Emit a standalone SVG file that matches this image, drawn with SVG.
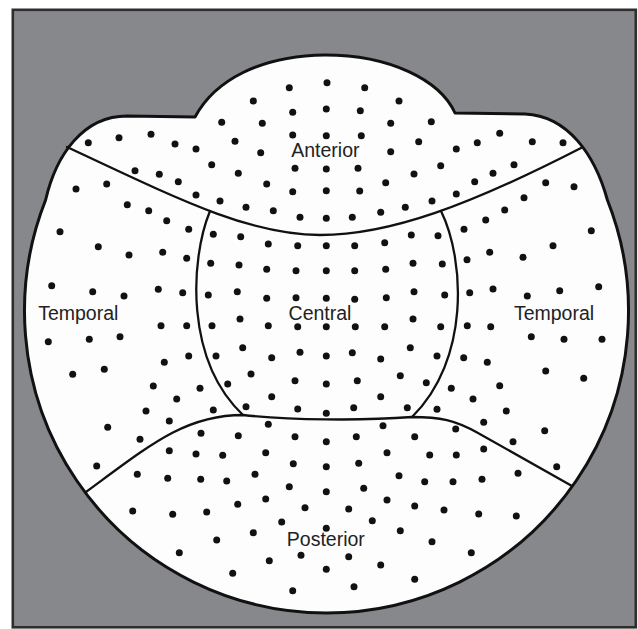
<svg xmlns="http://www.w3.org/2000/svg" width="638" height="629" viewBox="0 0 638 629">
<style>
.frame{fill:#87888b;stroke:#2e2e2e;stroke-width:2.6}
.head{fill:#fdfdfd;stroke:#111;stroke-width:3;stroke-linejoin:round}
.bd{fill:none;stroke:#111;stroke-width:2.3;stroke-linecap:round}
.dots circle{fill:#111}
.lbl{font-family:"Liberation Sans",Arial,Helvetica,sans-serif;font-size:19.5px;fill:#222;text-anchor:middle}
</style>
<rect class="frame" x="12.8" y="9.8" width="623" height="617.5"/>
<g id="head">
<path class="head" d="M127,116 L195,117 C215,80 260,56 325,55 C390,55 440,80 455,113 L525,114 C568,116 595,155 607.4,200 A302 302 0 1 1 45.6,200 C56,155 83,116 127,116 Z"/>
</g>
<g id="boundaries">
<path class="bd" d="M67,147 C180,200 250,235 320,235 C390,235 470,205 581,148"/>
<path class="bd" d="M210,211 C190,260 185,360 243,415"/>
<path class="bd" d="M441,211 C465,260 470,360 412,417"/>
<path class="bd" d="M86,492 C150,445 185,415 243,415 C290,420 360,421 412,417 C440,417 455,420 478,433 L572,486"/>
</g>
<g id="anterior" class="dots">
<circle cx="289.3" cy="87.7" r="3.5"/><circle cx="253.3" cy="101" r="3.5"/><circle cx="292.7" cy="112.3" r="3.5"/><circle cx="221.7" cy="122.3" r="3.5"/><circle cx="262.3" cy="123.3" r="3.5"/><circle cx="292.7" cy="135" r="3.5"/><circle cx="88.3" cy="142.7" r="3.5"/><circle cx="119" cy="137.7" r="3.5"/><circle cx="151" cy="134.3" r="3.5"/><circle cx="175" cy="144" r="3.5"/><circle cx="196" cy="149" r="3.5"/><circle cx="235" cy="141.3" r="3.5"/><circle cx="260.7" cy="152.7" r="3.5"/><circle cx="211.7" cy="164.7" r="3.5"/><circle cx="295" cy="168.3" r="3.5"/><circle cx="135" cy="170.7" r="3.5"/><circle cx="159.3" cy="174.3" r="3.5"/><circle cx="238.3" cy="173.3" r="3.5"/><circle cx="178.3" cy="181.7" r="3.5"/><circle cx="266.7" cy="184" r="3.5"/><circle cx="292.7" cy="191.7" r="3.5"/><circle cx="196" cy="195" r="3.5"/><circle cx="220" cy="201" r="3.5"/><circle cx="246" cy="207.3" r="3.5"/><circle cx="273.3" cy="210.7" r="3.5"/><circle cx="300" cy="217.3" r="3.5"/>
<circle cx="327" cy="82.7" r="3.5"/><circle cx="364.7" cy="87.7" r="3.5"/><circle cx="326.3" cy="109" r="3.5"/><circle cx="360.3" cy="110.7" r="3.5"/><circle cx="399" cy="101" r="3.5"/><circle cx="390.7" cy="123.3" r="3.5"/><circle cx="431.3" cy="121.7" r="3.5"/><circle cx="326.3" cy="135.7" r="3.5"/><circle cx="361.3" cy="135.7" r="3.5"/><circle cx="418.7" cy="141.7" r="3.5"/><circle cx="456.3" cy="149" r="3.5"/><circle cx="477.3" cy="142.7" r="3.5"/><circle cx="499.7" cy="133.3" r="3.5"/><circle cx="532.3" cy="141.7" r="3.5"/><circle cx="563" cy="142.7" r="3.5"/><circle cx="390.7" cy="151.7" r="3.5"/><circle cx="326.3" cy="169" r="3.5"/><circle cx="358" cy="168.3" r="3.5"/><circle cx="440.7" cy="165.7" r="3.5"/><circle cx="414" cy="174" r="3.5"/><circle cx="493" cy="173.3" r="3.5"/><circle cx="514" cy="164.7" r="3.5"/><circle cx="385.7" cy="182.7" r="3.5"/><circle cx="474.7" cy="181.7" r="3.5"/><circle cx="326.3" cy="190.7" r="3.5"/><circle cx="359.7" cy="191" r="3.5"/><circle cx="432" cy="201" r="3.5"/><circle cx="456.3" cy="194" r="3.5"/><circle cx="405.3" cy="207.3" r="3.5"/><circle cx="380.7" cy="212.3" r="3.5"/><circle cx="326.3" cy="218.3" r="3.5"/><circle cx="352.3" cy="217.3" r="3.5"/>
</g>
<g id="temporal-left" class="dots">
<circle cx="76" cy="189" r="3.5"/><circle cx="106.7" cy="184" r="3.5"/><circle cx="127.3" cy="204.7" r="3.5"/><circle cx="148.7" cy="210.7" r="3.5"/><circle cx="166.7" cy="220.7" r="3.5"/><circle cx="188.7" cy="229.3" r="3.5"/><circle cx="60" cy="231.7" r="3.5"/><circle cx="98.3" cy="246.7" r="3.5"/><circle cx="129" cy="255" r="3.5"/><circle cx="162.7" cy="252.3" r="3.5"/><circle cx="186.7" cy="258.3" r="3.5"/><circle cx="51.7" cy="285.7" r="3.5"/><circle cx="92.7" cy="291.7" r="3.5"/><circle cx="124" cy="296" r="3.5"/><circle cx="158.3" cy="289.3" r="3.5"/><circle cx="182.7" cy="292.7" r="3.5"/>
<circle cx="161" cy="325.7" r="3.5"/><circle cx="186.7" cy="325.7" r="3.5"/><circle cx="48.3" cy="341.7" r="3.5"/><circle cx="89.3" cy="339.3" r="3.5"/><circle cx="120" cy="336.7" r="3.5"/><circle cx="164.3" cy="362.3" r="3.5"/><circle cx="188.7" cy="356" r="3.5"/><circle cx="72.7" cy="374.3" r="3.5"/><circle cx="104.3" cy="369.3" r="3.5"/><circle cx="153.3" cy="386" r="3.5"/><circle cx="200" cy="388.3" r="3.5"/><circle cx="176.7" cy="399" r="3.5"/><circle cx="146" cy="411" r="3.5"/><circle cx="169.3" cy="421" r="3.5"/><circle cx="213.3" cy="410" r="3.5"/><circle cx="107.7" cy="427.3" r="3.5"/><circle cx="140" cy="439.3" r="3.5"/><circle cx="96.7" cy="466" r="3.5"/>
</g>
<g id="central" class="dots">
<circle cx="213.3" cy="234.3" r="3.5"/><circle cx="240.7" cy="236.7" r="3.5"/><circle cx="268.3" cy="244" r="3.5"/><circle cx="297.7" cy="245.7" r="3.5"/><circle cx="210.7" cy="263.3" r="3.5"/><circle cx="239" cy="265" r="3.5"/><circle cx="266.7" cy="269.3" r="3.5"/><circle cx="296" cy="270.7" r="3.5"/><circle cx="208.3" cy="295" r="3.5"/><circle cx="237.3" cy="291.7" r="3.5"/><circle cx="266.7" cy="298.3" r="3.5"/><circle cx="296" cy="297.7" r="3.5"/><circle cx="240" cy="319" r="3.5"/>
<circle cx="326.3" cy="245.7" r="3.5"/><circle cx="354.7" cy="245.7" r="3.5"/><circle cx="384.7" cy="242.7" r="3.5"/><circle cx="411.3" cy="235" r="3.5"/><circle cx="438" cy="235.7" r="3.5"/><circle cx="326.3" cy="270.7" r="3.5"/><circle cx="354.7" cy="270.7" r="3.5"/><circle cx="385.7" cy="269.3" r="3.5"/><circle cx="413" cy="263.3" r="3.5"/><circle cx="442.3" cy="264" r="3.5"/><circle cx="326.3" cy="298.3" r="3.5"/><circle cx="354.7" cy="299.3" r="3.5"/><circle cx="386.3" cy="297.7" r="3.5"/><circle cx="414" cy="291.7" r="3.5"/><circle cx="444.7" cy="295" r="3.5"/><circle cx="413" cy="319" r="3.5"/>
<circle cx="212" cy="325.7" r="3.5"/><circle cx="268.3" cy="325.7" r="3.5"/><circle cx="297.7" cy="326.7" r="3.5"/><circle cx="216" cy="356" r="3.5"/><circle cx="242.7" cy="347.7" r="3.5"/><circle cx="271.7" cy="357.7" r="3.5"/><circle cx="300" cy="352.3" r="3.5"/><circle cx="227.7" cy="384" r="3.5"/><circle cx="251" cy="374" r="3.5"/><circle cx="295" cy="380.7" r="3.5"/><circle cx="246" cy="406.7" r="3.5"/><circle cx="271.7" cy="396.7" r="3.5"/><circle cx="297.7" cy="409" r="3.5"/>
<circle cx="326.3" cy="326.7" r="3.5"/><circle cx="355.3" cy="326.7" r="3.5"/><circle cx="384.7" cy="326.7" r="3.5"/><circle cx="440.7" cy="326.7" r="3.5"/><circle cx="326.3" cy="356" r="3.5"/><circle cx="352.3" cy="352.7" r="3.5"/><circle cx="380.7" cy="359" r="3.5"/><circle cx="410.3" cy="347.7" r="3.5"/><circle cx="437" cy="356" r="3.5"/><circle cx="326.3" cy="384" r="3.5"/><circle cx="357.3" cy="380.7" r="3.5"/><circle cx="400.3" cy="375.7" r="3.5"/><circle cx="426.3" cy="382.7" r="3.5"/><circle cx="326.3" cy="413.3" r="3.5"/><circle cx="353.7" cy="407.7" r="3.5"/><circle cx="380.7" cy="396.7" r="3.5"/><circle cx="407.3" cy="407.7" r="3.5"/>
</g>
<g id="temporal-right" class="dots">
<circle cx="545.7" cy="182.7" r="3.5"/><circle cx="574" cy="186.7" r="3.5"/><circle cx="524" cy="197.7" r="3.5"/><circle cx="504.7" cy="210" r="3.5"/><circle cx="485.7" cy="220" r="3.5"/><circle cx="464" cy="229.3" r="3.5"/><circle cx="591.3" cy="230.7" r="3.5"/><circle cx="553" cy="245.7" r="3.5"/><circle cx="489.7" cy="252.3" r="3.5"/><circle cx="523" cy="257.3" r="3.5"/><circle cx="467" cy="259.7" r="3.5"/><circle cx="469.7" cy="292.7" r="3.5"/><circle cx="493" cy="289" r="3.5"/><circle cx="527.3" cy="296" r="3.5"/><circle cx="559.7" cy="290.7" r="3.5"/><circle cx="598.7" cy="286.7" r="3.5"/>
<circle cx="467.3" cy="325.7" r="3.5"/><circle cx="490.7" cy="326.7" r="3.5"/><circle cx="531.3" cy="336.7" r="3.5"/><circle cx="564" cy="339.3" r="3.5"/><circle cx="602" cy="339.3" r="3.5"/><circle cx="463.7" cy="357.7" r="3.5"/><circle cx="487.3" cy="362.3" r="3.5"/><circle cx="545.7" cy="371" r="3.5"/><circle cx="583.7" cy="378.3" r="3.5"/><circle cx="451.3" cy="388.3" r="3.5"/><circle cx="499.7" cy="385.7" r="3.5"/><circle cx="473" cy="399" r="3.5"/><circle cx="506.3" cy="411" r="3.5"/><circle cx="437" cy="409.3" r="3.5"/><circle cx="483.7" cy="422.3" r="3.5"/><circle cx="544.7" cy="430.7" r="3.5"/><circle cx="513" cy="441.7" r="3.5"/><circle cx="556.7" cy="466.7" r="3.5"/>
</g>
<g id="posterior" class="dots">
<circle cx="268.3" cy="424.3" r="3.5"/><circle cx="295" cy="436.7" r="3.5"/><circle cx="238.3" cy="435.7" r="3.5"/><circle cx="201" cy="433.3" r="3.5"/><circle cx="169.3" cy="450.7" r="3.5"/><circle cx="196" cy="454" r="3.5"/><circle cx="222.7" cy="455.3" r="3.5"/><circle cx="265.7" cy="452.7" r="3.5"/><circle cx="293.3" cy="463.7" r="3.5"/><circle cx="137.3" cy="474.3" r="3.5"/><circle cx="167.7" cy="478.3" r="3.5"/><circle cx="200.7" cy="479.3" r="3.5"/><circle cx="226.7" cy="481" r="3.5"/><circle cx="255" cy="474.3" r="3.5"/><circle cx="289.3" cy="486.7" r="3.5"/><circle cx="265.7" cy="499" r="3.5"/><circle cx="305" cy="507.7" r="3.5"/><circle cx="237.7" cy="504.3" r="3.5"/><circle cx="132.7" cy="511" r="3.5"/><circle cx="172.7" cy="514.3" r="3.5"/><circle cx="206.7" cy="512" r="3.5"/><circle cx="281.7" cy="522" r="3.5"/><circle cx="216.7" cy="540" r="3.5"/><circle cx="253.3" cy="532.7" r="3.5"/><circle cx="179.3" cy="552.7" r="3.5"/><circle cx="269.3" cy="560.7" r="3.5"/><circle cx="301" cy="555.3" r="3.5"/><circle cx="232.7" cy="573.3" r="3.5"/><circle cx="292.7" cy="590.7" r="3.5"/>
<circle cx="383" cy="425.7" r="3.5"/><circle cx="455.7" cy="429" r="3.5"/><circle cx="414.7" cy="436.7" r="3.5"/><circle cx="326.3" cy="441.7" r="3.5"/><circle cx="356.3" cy="436.7" r="3.5"/><circle cx="387" cy="452.7" r="3.5"/><circle cx="429.7" cy="455" r="3.5"/><circle cx="456.3" cy="455" r="3.5"/><circle cx="483.7" cy="449" r="3.5"/><circle cx="326.3" cy="466.7" r="3.5"/><circle cx="358.7" cy="463.3" r="3.5"/><circle cx="399" cy="475.7" r="3.5"/><circle cx="424.7" cy="481.7" r="3.5"/><circle cx="453" cy="481.7" r="3.5"/><circle cx="482" cy="479.3" r="3.5"/><circle cx="518" cy="473.3" r="3.5"/><circle cx="326.3" cy="491.7" r="3.5"/><circle cx="363.7" cy="488.3" r="3.5"/><circle cx="348.7" cy="509" r="3.5"/><circle cx="387" cy="500" r="3.5"/><circle cx="414.7" cy="506" r="3.5"/><circle cx="444" cy="510" r="3.5"/><circle cx="478.7" cy="514" r="3.5"/><circle cx="516.3" cy="516" r="3.5"/><circle cx="372.3" cy="520.7" r="3.5"/><circle cx="326.3" cy="528.3" r="3.5"/><circle cx="400.3" cy="530.7" r="3.5"/><circle cx="432" cy="541.7" r="3.5"/><circle cx="471.3" cy="552.7" r="3.5"/><circle cx="348.7" cy="556.7" r="3.5"/><circle cx="380.7" cy="565" r="3.5"/><circle cx="326.3" cy="569.3" r="3.5"/><circle cx="414.7" cy="579.3" r="3.5"/><circle cx="354" cy="586.7" r="3.5"/>
</g>
<g id="labels">
<text class="lbl" x="325.4" y="157">Anterior</text>
<text class="lbl" x="78.3" y="320">Temporal</text>
<text class="lbl" x="320" y="320">Central</text>
<text class="lbl" x="554" y="320">Temporal</text>
<text class="lbl" x="325.8" y="545.5">Posterior</text>
</g>
</svg>
